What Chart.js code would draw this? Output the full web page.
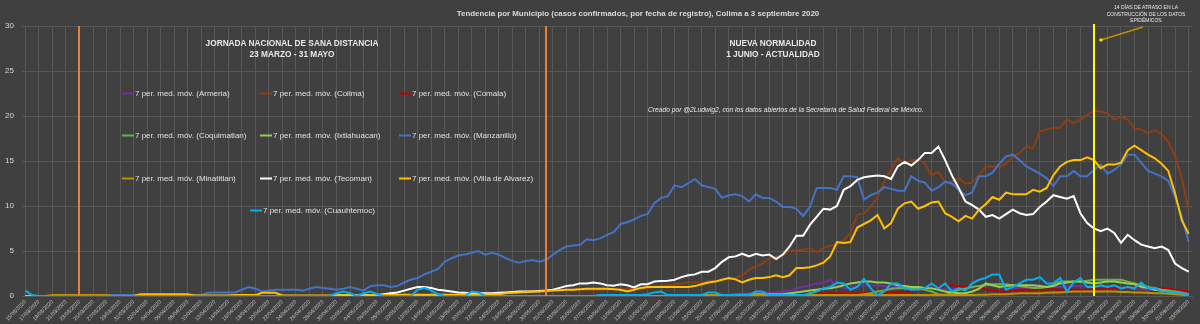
<!DOCTYPE html>
<html>
<head>
<meta charset="utf-8">
<script src="https://cdn.jsdelivr.net/npm/chart.js@4.4.0/dist/chart.umd.min.js"></script>
<style>
html,body{margin:0;padding:0;background:#404040;}
#wrap{position:relative;width:1200px;height:324px;overflow:hidden;background:#404040;font-family:"Liberation Sans",Arial,sans-serif;}
#c{position:absolute;left:0;top:0;}
.t{position:absolute;white-space:nowrap;color:#e8e8e8;line-height:1;}
.c{transform:translate(-50%,-50%);text-align:center;}
.b{font-weight:bold;}
.lg{position:absolute;display:flex;align-items:center;white-space:nowrap;color:#e0e0e0;font-size:8px;transform:translateY(-50%);}
.lg i{display:inline-block;width:12px;height:2px;margin-right:1px;}
</style>
</head>
<body>
<div id="wrap">
<canvas id="c" width="1200" height="324"></canvas>
<div class="t c b" style="left:638px;top:14px;font-size:7.9px;color:#d9d9d9;">Tendencia por Municipio (casos confirmados, por fecha de registro), Colima a 3 septiembre 2020</div>
<div class="t c b" style="left:292px;top:49px;font-size:8.3px;line-height:11px;">JORNADA NACIONAL DE SANA DISTANCIA<br>23 MARZO - 31 MAYO</div>
<div class="t c b" style="left:773px;top:49px;font-size:8.3px;line-height:11px;">NUEVA NORMALIDAD<br>1 JUNIO - ACTUALIDAD</div>
<div class="t" style="left:648px;top:107px;font-size:6.7px;font-style:italic;">Creado por @2Ludwig2, con los datos abiertos de la Secretaría de Salud Federal de México.</div>
<div class="t c" style="left:1146px;top:14px;font-size:5px;line-height:6.5px;">14 DÍAS DE ATRASO EN LA<br>CONSTRUCCIÓN DE LOS DATOS<br>EPIDÉMICOS</div>
<div id="legend"></div>
</div>
<script>
const dates = [
"15/03/2020","16/03/2020","17/03/2020","18/03/2020","19/03/2020","20/03/2020","21/03/2020","22/03/2020","23/03/2020","24/03/2020",
"25/03/2020","26/03/2020","27/03/2020","28/03/2020","29/03/2020","30/03/2020","31/03/2020","01/04/2020","02/04/2020","03/04/2020",
"04/04/2020","05/04/2020","06/04/2020","07/04/2020","08/04/2020","09/04/2020","10/04/2020","11/04/2020","12/04/2020","13/04/2020",
"14/04/2020","15/04/2020","16/04/2020","17/04/2020","18/04/2020","19/04/2020","20/04/2020","21/04/2020","22/04/2020","23/04/2020",
"24/04/2020","25/04/2020","26/04/2020","27/04/2020","28/04/2020","29/04/2020","30/04/2020","01/05/2020","02/05/2020","03/05/2020",
"04/05/2020","05/05/2020","06/05/2020","07/05/2020","08/05/2020","09/05/2020","10/05/2020","11/05/2020","12/05/2020","13/05/2020",
"14/05/2020","15/05/2020","16/05/2020","17/05/2020","18/05/2020","19/05/2020","20/05/2020","21/05/2020","22/05/2020","23/05/2020",
"24/05/2020","25/05/2020","26/05/2020","27/05/2020","28/05/2020","29/05/2020","30/05/2020","31/05/2020","01/06/2020","02/06/2020",
"03/06/2020","04/06/2020","05/06/2020","06/06/2020","07/06/2020","08/06/2020","09/06/2020","10/06/2020","11/06/2020","12/06/2020",
"13/06/2020","14/06/2020","15/06/2020","16/06/2020","17/06/2020","18/06/2020","19/06/2020","20/06/2020","21/06/2020","22/06/2020",
"23/06/2020","24/06/2020","25/06/2020","26/06/2020","27/06/2020","28/06/2020","29/06/2020","30/06/2020","01/07/2020","02/07/2020",
"03/07/2020","04/07/2020","05/07/2020","06/07/2020","07/07/2020","08/07/2020","09/07/2020","10/07/2020","11/07/2020","12/07/2020",
"13/07/2020","14/07/2020","15/07/2020","16/07/2020","17/07/2020","18/07/2020","19/07/2020","20/07/2020","21/07/2020","22/07/2020",
"23/07/2020","24/07/2020","25/07/2020","26/07/2020","27/07/2020","28/07/2020","29/07/2020","30/07/2020","31/07/2020","01/08/2020",
"02/08/2020","03/08/2020","04/08/2020","05/08/2020","06/08/2020","07/08/2020","08/08/2020","09/08/2020","10/08/2020","11/08/2020",
"12/08/2020","13/08/2020","14/08/2020","15/08/2020","16/08/2020","17/08/2020","18/08/2020","19/08/2020","20/08/2020","21/08/2020",
"22/08/2020","23/08/2020","24/08/2020","25/08/2020","26/08/2020","27/08/2020","28/08/2020","29/08/2020","30/08/2020","31/08/2020",
"01/09/2020","02/09/2020","03/09/2020"
];

const armeria = [
0,0,0,0,0,0,0,0,0,0, 0,0,0,0,0,0,0,0,0,0, 0,0,0,0,0,0,0,0,0,0, 0,0,0,0,0,0,0,0,0,0,
0,0,0,0,0,0,0,0,0,0, 0,0,0,0,0,0,0,0,0,0, 0,0,0,0,0,0,0,0,0,0, 0,0,0,0,0,0,0,0,0,0,
0,0,0,0,0,0,0,0,0,0, 0,0,0,0,0,0,0,0,0,0.1,
0.1,0.1,0.1,0.1,0.1,0.1,0.2,0.3,0.3,0.3,
0.35,0.4,0.5,0.6,0.8,1.0,1.2,1.4,1.5,1.8,
1.1,0.9,0.9,1.1,1.2,1.2,1.2,1.1,1.0,1.0,
1.0,0.8,0.7,0.7,0.8,0.8,0.7,0.8,0.8,0.9,
1.0,1.1,1.2,1.2,1.0,0.9,0.9,0.9,0.9,1.0,
1.0,1.0,1.0,1.0,1.0,1.1,1.1,1.1,1.0,1.0,
0.9,0.9,0.9,0.9,0.8,0.8,0.7,0.7,0.7,0.6,
0.5,0.4,0.3
];

const colima = [
0,0,0,0,0,0,0,0,0,0, 0,0,0,0,0,0,0,0,0,0, 0,0,0,0,0,0,0,0,0,0, 0,0,0,0,0,0,0,0,0,0,
0,0,0,0,0,0,0,0,0,0, 0,0,0,0,0,0,0,0,0,0,
0.1,0.1,0.1,0.1,0.15,0.2,0.2,0.2,0.25,0.3,
0.3,0.35,0.4,0.45,0.5,0.5,0.55,0.6,0.65,0.7,
0.7,0.7,0.75,0.7,0.7,0.7,0.7,0.8,0.7,0.8,
0.9,0.8,0.9,1.0,1.1,1.2,1.3,1.4,1.5,1.5,
1.5,1.6,1.7,1.8,1.9,2.0,2.3,2.9,3.3,3.6,
4.2,4.4,4.6,5.0,5.1,5.1,5.3,4.9,5.3,5.6,
5.7,6.2,7.0,9.0,9.2,9.9,11.0,12.7,14.1,15.3,
14.7,15.1,15.2,14.7,13.4,13.8,12.6,12.7,13.1,12.5,
12.6,13.4,14.4,14.4,14.3,14.7,15.5,15.9,16.6,16.4,
18.3,18.5,18.7,18.7,19.6,19.2,19.6,20.1,20.6,20.5,
20.3,19.6,19.9,19.6,18.6,18.5,18.1,18.4,18.0,17.1,
15.5,13.1,9.5
];

const comala = [
0,0,0,0,0,0,0,0,0,0, 0,0,0,0,0,0,0,0,0,0, 0,0,0,0,0,0,0,0,0,0, 0,0,0,0,0,0,0,0,0,0,
0,0,0,0,0,0,0,0,0,0, 0,0,0,0,0,0,0,0,0,0, 0,0,0,0,0,0,0,0,0,0, 0,0,0,0,0,0,0,0,0,0,
0,0,0,0,0,0,0,0,0,0, 0,0,0,0,0,0,0,0,0,0,
0,0.1,0.1,0.1,0.1,0.1,0.1,0.1,0.1,0.1,
0.1,0.2,0.2,0.2,0.2,0.2,0.3,0.3,0.3,0.3,
0.3,0.3,0.3,0.3,0.3,0.3,0.4,0.4,0.4,0.4,
0.4,0.5,0.6,0.7,0.9,1.1,1.2,1.2,1.1,1.1,
1.0,0.8,0.75,0.6,0.5,0.5,0.6,0.7,0.7,0.7,
0.7,0.75,0.75,0.7,0.7,0.7,0.7,0.7,0.75,0.8,
0.85,0.85,0.85,0.9,0.95,1.0,0.95,0.9,0.85,0.8,
0.7,0.6,0.5
];

const coquimatlan = [
0,0,0,0,0,0,0,0,0,0, 0,0,0,0,0,0,0,0,0,0, 0,0,0,0,0,0,0,0,0,0, 0,0,0,0,0,0,0,0,0,0,
0,0,0,0,0,0,0,0,0,0, 0,0,0,0,0,0,0,0,0,0, 0,0,0,0,0,0,0,0,0,0, 0,0,0,0,0,0,0,0,0,0,
0,0,0,0,0,0,0,0,0,0, 0,0,0,0,0,0,0,0,0,0, 0,0,0,0,0,0,0,0,0,0, 0,0,0,0,0,0,0,0,0,0,
0.1,0.1,0.1,0.1,0.2,0.3,0.5,0.6,0.8,0.85,
0.85,0.85,0.8,0.7,0.5,0.2,0.1,0.4,0.7,0.8,
1.0,1.1,1.2,1.3,1.3,1.3,1.2,1.1,1.0,0.9,
0.9,1.0,1.2,1.6,1.6,1.6,1.6,1.7,1.8,1.8,
1.8,1.8,1.8,1.6,1.4,1.2,1.0,0.9,0.7,0.6,
0.5,0.4,0.2
];

const ixtlahuacan = [
0,0,0,0,0,0,0,0,0,0, 0,0,0,0,0,0,0,0,0,0, 0,0,0,0,0,0,0,0,0,0, 0,0,0,0,0,0,0,0,0,0,
0,0,0,0,0,0,0,0,0,0, 0,0,0,0,0,0,0,0,0,0, 0,0,0,0,0,0,0,0,0,0, 0,0,0,0,0,0,0,0,0,0,
0,0,0,0,0,0,0,0,0,0, 0,0,0,0,0,0,0,0,0,0,
0.1,0.1,0.1,0.1,0.1,0.15,0.15,0.15,0.2,0.2,
0.2,0.2,0.2,0.3,0.4,0.5,0.6,0.7,0.8,0.85,
1.0,1.2,1.4,1.5,1.6,1.6,1.5,1.5,1.4,1.2,
1.1,1.0,1.0,0.9,0.85,0.7,0.5,0.4,0.3,0.3,
0.5,0.8,1.4,1.2,1.0,1.1,1.2,1.2,1.2,1.2,
1.1,1.0,1.1,1.4,1.5,1.6,1.6,1.5,1.4,1.5,
1.6,1.6,1.5,1.4,1.3,1.0,0.9,0.7,0.6,0.5,
0.4,0.2,0.1
];

const manzanillo = [
0,0,0,0,0,0,0,0,0.1,0.1,
0.1,0.1,0.1,0.1,0.1,0.1,0.1,0.1,0.1,0.1,
0.1,0.1,0.1,0.1,0.1,0.1,0.1,0.35,0.4,0.4,
0.4,0.4,0.7,1.0,0.8,0.5,0.6,0.7,0.7,0.7,
0.7,0.6,0.8,1.0,0.9,0.8,0.7,0.8,1.0,0.8,
0.6,1.1,1.2,1.2,1.0,1.1,1.5,1.8,2.0,2.4,
2.7,3.0,3.8,4.2,4.5,4.6,4.8,5.0,4.6,4.8,
4.6,4.2,3.9,3.7,3.9,4.0,3.8,4.0,4.6,5.1,
5.5,5.6,5.7,6.3,6.2,6.4,6.8,7.1,8.0,8.2,
8.5,8.9,9.1,10.3,10.9,11.1,12.3,12.1,12.5,13.0,
12.3,12.1,11.9,10.9,11.2,11.3,11.1,10.5,11.3,10.9,
10.9,10.5,9.9,9.9,9.7,8.9,9.9,12.0,12.0,12.0,
11.8,13.3,13.3,13.2,10.7,11.2,11.5,12.1,11.9,11.7,
11.7,13.3,12.8,12.6,11.7,12.1,12.7,12.5,11.8,11.2,
11.5,13.3,13.3,13.7,14.7,15.5,15.7,15.1,14.4,14.0,
13.6,13.1,12.2,13.3,13.3,13.9,13.3,13.3,14.0,14.6,
13.6,14.0,14.6,15.7,15.7,14.8,13.9,13.6,13.3,12.8,
11.0,8.8,6.0
];

const minatitlan = [
0,0,0,0,0.1,0.1,0.1,0.1,0.1,0.1,
0.1,0.1,0.1,0,0,0,0,0,0,0,
0,0,0,0,0,0,0,0,0,0, 0,0,0,0,0,0,0,0,0,0, 0,0,0,0,0,0,0,0,0,0,
0,0,0,0,0,0,0,0,0,0, 0,0,0,0,0,0,0,0,0,0, 0,0,0,0,0,0,0,0,0,0,
0,0,0,0,0,0,0,0,0,0, 0,0,0,0,0,0,0,0,0,0,
0.1,0.1,0.1,0.1,0.1,0.1,0.1,0.1,0.1,0.1,
0.1,0.1,0.1,0.1,0.1,0.1,0.1,0.1,0.1,0.1,
0.1,0.1,0.1,0.1,0.1,0.1,0.1,0.1,0.1,0.1,
0.1,0.1,0.1,0.1,0.1,0.1,0.1,0.1,0.1,0.1,
0.1,0.15,0.15,0.2,0.2,0.2,0.25,0.3,0.3,0.3,
0.3,0.35,0.4,0.4,0.45,0.5,0.5,0.5,0.5,0.5,
0.5,0.5,0.45,0.45,0.4,0.4,0.35,0.3,0.3,0.25,
0.2,0.15,0.1
];

const tecoman = [
0,0,0,0,0,0,0,0,0,0, 0,0,0,0,0,0,0,0,0,0, 0,0,0,0,0,0,0,0,0,0, 0,0,0,0,0,0,0,0,0,0,
0,0,0,0,0,0,0.1,0.1,0.1,0.1,
0.1,0.1,0.1,0.2,0.3,0.4,0.6,0.8,1.0,1.0,
0.9,0.7,0.6,0.5,0.4,0.35,0.3,0.3,0.3,0.3,
0.35,0.4,0.45,0.5,0.5,0.5,0.55,0.6,0.7,0.9,
1.1,1.2,1.4,1.4,1.5,1.4,1.2,1.15,1.3,1.2,
0.96,1.3,1.3,1.6,1.67,1.7,1.8,2.1,2.3,2.4,
2.7,2.7,3.1,3.8,4.3,4.4,4.7,4.4,4.7,4.5,
4.6,4.1,4.6,5.5,6.7,6.7,7.9,8.8,9.7,9.6,
10.0,11.8,12.2,12.9,13.2,13.3,13.4,13.3,13.0,14.4,
14.9,14.5,15.1,15.9,15.9,16.6,15.1,13.4,12.0,10.5,
10.1,9.6,8.8,9.0,8.6,9.1,9.6,9.2,9.0,9.1,
9.9,10.5,11.2,11.0,10.8,11.1,9.2,8.1,7.5,7.2,
7.5,7.0,5.9,6.8,6.2,5.7,5.5,5.3,5.5,5.1,
3.6,3.1,2.7
];

const villaDeAlvarez = [
0,0,0,0,0,0,0,0,0,0,
0,0,0,0,0,0,0,0.2,0.2,0.2,
0.2,0.2,0.2,0.2,0.2,0.05,0.05,0.05,0.05,0.05,
0.05,0.1,0.1,0.1,0.1,0.35,0.35,0.35,0.05,0.05,
0.05,0.05,0.05,0.05,0.05,0.05,0.1,0.1,0.1,0.1,
0.1,0.1,0.1,0.1,0.1,0.1,0.15,0.15,0.15,0.15,
0.15,0.15,0.15,0.15,0.15,0.15,0.2,0.2,0.2,0.2,
0.2,0.3,0.35,0.4,0.45,0.5,0.5,0.55,0.6,0.65,
0.7,0.7,0.75,0.8,0.8,0.8,0.8,0.75,0.7,0.5,
0.7,0.9,1.0,1.0,1.0,1.0,1.0,1.0,1.0,1.1,
1.3,1.5,1.6,1.8,2.0,1.85,1.5,1.8,2.0,2.0,
2.1,2.3,2.1,2.3,3.1,3.1,3.2,3.4,3.7,4.4,
6.0,5.9,6.0,7.6,8.0,8.4,9.0,7.5,8.1,9.7,
10.3,10.5,9.7,10.0,10.4,10.5,9.2,8.8,8.3,8.9,
8.6,9.6,10.2,11.0,10.7,11.5,11.3,11.3,11.3,11.8,
11.6,12.0,13.4,14.4,14.9,15.1,15.1,15.4,15.1,14.2,
14.6,14.6,14.8,16.2,16.7,16.2,15.7,15.3,14.7,13.9,
11.4,8.4,6.9
];

const cuauhtemoc = [
0.6,0.1,0,0,0,0,0,0,0,0,
0,0,0,0,0,0,0,0,0,0, 0,0,0,0,0,0,0,0,0,0, 0,0,0,0,0,0,0,0,0,0,
0,0,0,0,0,0,0.3,0.5,0.3,0,
0.3,0.5,0.2,0,0,0,0,0,0.7,0.9,
0.6,0.2,0,0,0,0,0.5,0.4,0,0,
0,0,0,0,0,0,0,0,0,0,
0,0,0,0,0,0.1,0.1,0.1,0.1,0.1,
0.1,0.1,0.2,0.4,0.5,0.1,0.1,0.1,0.1,0.1,
0.1,0.4,0.4,0.1,0.1,0.1,0.1,0.1,0.5,0.5,
0.1,0.1,0.1,0.1,0.1,0.1,0.3,0.5,0.85,1.0,
1.5,1.4,0.7,1.0,1.9,0.85,0.1,0.5,1.4,1.4,
0.85,0.7,0.7,0.85,1.4,0.85,1.4,0.5,0.85,0.6,
1.4,1.8,2.0,2.4,2.4,0.7,1.0,1.4,1.8,1.8,
2.1,1.4,1.4,2.0,0.5,1.5,2.0,1.0,1.0,1.2,
1.0,1.2,0.85,1.0,0.85,1.5,0.85,0.85,0.5,0.5,
0.4,0.3,0.1
];

const yTicks = [0, 5, 10, 15, 20, 25, 30];
const markerDates = ["23/03/2020", "31/05/2020", "20/08/2020"];
const markerColors = ["#ED7D31", "#ED7D31", "#FFFF00"];

const seriesNames = ["Armeria","Colima","Comala","Coquimatlan","Ixtlahuacan","Manzanillo","Minatitlan","Tecoman","Villa de Alvarez","Cuauhtemoc"];
const seriesData = [armeria, colima, comala, coquimatlan, ixtlahuacan, manzanillo, minatitlan, tecoman, villaDeAlvarez, cuauhtemoc];
const seriesColors = ["#7030A0","#8E3F12","#C00000","#70AD47","#92D050","#4472C4","#BF9000","#FFFFFF","#FFC000","#00B0F0"];

const datasets = seriesNames.map((n, i) => ({
  label: "7 per. med. móv. (" + n + ")",
  data: seriesData[i],
  borderColor: seriesColors[i],
  backgroundColor: seriesColors[i],
  borderWidth: 2,
  pointRadius: 0,
  tension: 0,
  fill: false,
  order: seriesNames.length - i
}));

const markerPlugin = {
  id: 'markers',
  afterDatasetsDraw(chart) {
    const {ctx, chartArea} = chart;
    const xs = chart.scales.x;
    ctx.save();
    markerDates.forEach((d, k) => {
      const x = Math.round(xs.getPixelForValue(dates.indexOf(d)));
      ctx.strokeStyle = markerColors[k];
      ctx.lineWidth = 2;
      ctx.beginPath();
      ctx.moveTo(x, k === 2 ? chartArea.top - 2 : chartArea.top);
      ctx.lineTo(x, chartArea.bottom);
      ctx.stroke();
      if (k === 2) {
        const x2 = x + 49, y2 = chartArea.top + 1;
        const x1 = x + 7, y1 = chartArea.top + 14;
        ctx.strokeStyle = "#BF9000";
        ctx.lineWidth = 1.5;
        ctx.beginPath();
        ctx.moveTo(x2, y2);
        ctx.lineTo(x1, y1);
        ctx.stroke();
        ctx.fillStyle = "#FFD700";
        ctx.beginPath();
        ctx.arc(x1, y1, 1.8, 0, Math.PI * 2);
        ctx.fill();
      }
    });
    ctx.restore();
  }
};

Chart.defaults.font.family = '"Liberation Sans", Arial, sans-serif';

const chart = new Chart(document.getElementById('c'), {
  type: 'line',
  data: { labels: dates, datasets },
  options: {
    responsive: false,
    animation: false,
    devicePixelRatio: 1,
    layout: { padding: { left: 0, right: 8, top: 26, bottom: 0 } },
    plugins: { legend: { display: false }, title: { display: false }, tooltip: { enabled: false } },
    scales: {
      x: {
        type: 'category',
        offset: true,
        grid: {
          color: (c) => (c.index % 2 === 0 ? '#575757' : 'rgba(0,0,0,0)'),
          drawTicks: false,
          lineWidth: 1
        },
        border: { color: '#575757' },
        ticks: {
          autoSkip: false,
          maxRotation: 45,
          minRotation: 45,
          padding: 3,
          color: '#c8c8c8',
          font: { size: 5.3 },
          callback: (v, i) => (i % 2 === 0 ? dates[i] : '')
        },
        afterFit: (s) => { s.height = 28; }
      },
      y: {
        min: 0,
        max: 30,
        afterBuildTicks: (s) => { s.ticks = yTicks.map(v => ({ value: v })); },
        grid: { color: '#575757', drawTicks: false },
        border: { display: false },
        ticks: { color: '#d9d9d9', font: { size: 8 }, padding: 8 },
        afterFit: (s) => { s.width = 22; }
      }
    }
  },
  plugins: [markerPlugin]
});

// legend (HTML)
const legendPos = [[122,93],[260,93],[399,93],[122,135],[260,135],[399,135],[122,178],[260,178],[399,178],[250,210]];
const lg = document.getElementById('legend');
datasets.forEach((d, i) => {
  const el = document.createElement('div');
  el.className = 'lg';
  el.style.left = legendPos[i][0] + 'px';
  el.style.top = legendPos[i][1] + 'px';
  const sw = document.createElement('i');
  sw.style.background = d.borderColor;
  el.appendChild(sw);
  el.appendChild(document.createTextNode(d.label));
  lg.appendChild(el);
});
</script>
</body>
</html>
